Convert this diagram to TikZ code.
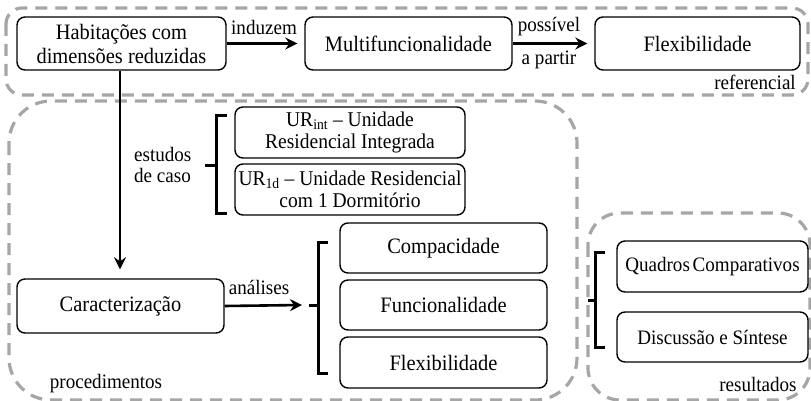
\documentclass[tikz,border=0pt]{standalone}
\usepackage{fontspec}
\setmainfont[FakeStretch=0.93]{Liberation Serif}
\usetikzlibrary{arrows.meta}
\begin{document}
\begin{tikzpicture}[x=1pt,y=-1pt,
  every node/.style={font=\fontsize{22}{24}\selectfont, text=black, inner sep=0pt},
  lbl/.style={font=\fontsize{20.5}{21}\selectfont},
  box/.style={draw=black, line width=1.4pt, rounded corners=8pt, align=center},
  urbox/.style={box, minimum width=230pt, minimum height=51pt, font=\fontsize{21}{22}\selectfont},
  resbox/.style={box, minimum width=191pt, font=\fontsize{20.5}{22}\selectfont},
  group/.style={draw=black!35, line width=3.2pt, dash pattern=on 12pt off 8pt},
  flow/.style={line width=2.6pt, -{Stealth[length=12pt,width=12pt,inset=4pt]}},
  brace/.style={line width=3pt}
]
\useasboundingbox (0,0) rectangle (811,401);

% dashed grouping frames
\draw[group, rounded corners=16pt] (6,8) rectangle (808,95);
\draw[group, rounded corners=42pt] (9,101) rectangle (577,400);
\draw[group, rounded corners=32pt] (588,213) rectangle (810,400);

\node[lbl] at (755,82) {referencial};
\node[lbl] at (106,384) {procedimentos};
\node[lbl] at (758,384) {resultados};

% top row
\node[box, minimum width=209pt, minimum height=53pt] (hab) at (121.5,43.5)
  {Habitações com\\dimensões reduzidas};
\node[box, minimum width=207pt, minimum height=53pt] (multi) at (408.5,43.5) {Multifuncionalidade};
\node[box, minimum width=205pt, minimum height=53pt] (flex) at (697.5,43.5) {Flexibilidade};

\draw[flow, shorten >=7pt] (hab.east) -- (multi.west);
\node[lbl] at (264,27) {induzem};
\draw[flow, shorten >=7pt] (multi.east) -- (flex.west);
\node[lbl] at (549,27) {possível};
\node[lbl] at (549,60) {a partir};

% case studies
\node[urbox] (urint) at (350,132.5) {UR\textsubscript{int} – Unidade\\Residencial Integrada};
\node[urbox] (urd) at (350,189.5) {UR\textsubscript{1d} – Unidade Residencial\\com 1 Dormitório};
\draw[brace] (227,116) -- (216,116) -- (216,213) -- (227,213);
\draw[brace] (216,165) -- (205,165);
\node[lbl, align=left, anchor=west] (est) at (134,164.5) {estudos\\de caso};

% characterisation
\node[box, minimum width=207pt, minimum height=54pt] (carac) at (120.5,306) {Caracterização};
\draw[flow, shorten >=9pt] (hab.south -| 120,70) -- (carac.north -| 120,279);
\coordinate (an) at (302,305);
\draw[flow] (carac.east) -- (an);
\node[lbl] at (259,287) {análises};

\node[box, minimum width=207pt, minimum height=50pt] (comp) at (443.5,248) {Compacidade};
\node[box, minimum width=207pt, minimum height=50pt] (func) at (443.5,305) {Funcionalidade};
\node[box, minimum width=207pt, minimum height=51pt] (flex2) at (443.5,362.5) {Flexibilidade};
\draw[brace] (328,242) -- (318,242) -- (318,373) -- (328,373);
\draw[brace] (318,305) -- (309,305);

% results
\node[resbox, minimum height=51pt] (quad) at (712.5,266.5) {Quadros\hspace{-2pt} Comparativos};
\node[resbox, minimum height=50pt] (disc) at (712.5,337) {Discussão e Síntese};
\draw[brace] (605,252) -- (595,252) -- (595,347) -- (605,347);
\draw[brace] (595,300) -- (588,300);
\end{tikzpicture}
\end{document}
